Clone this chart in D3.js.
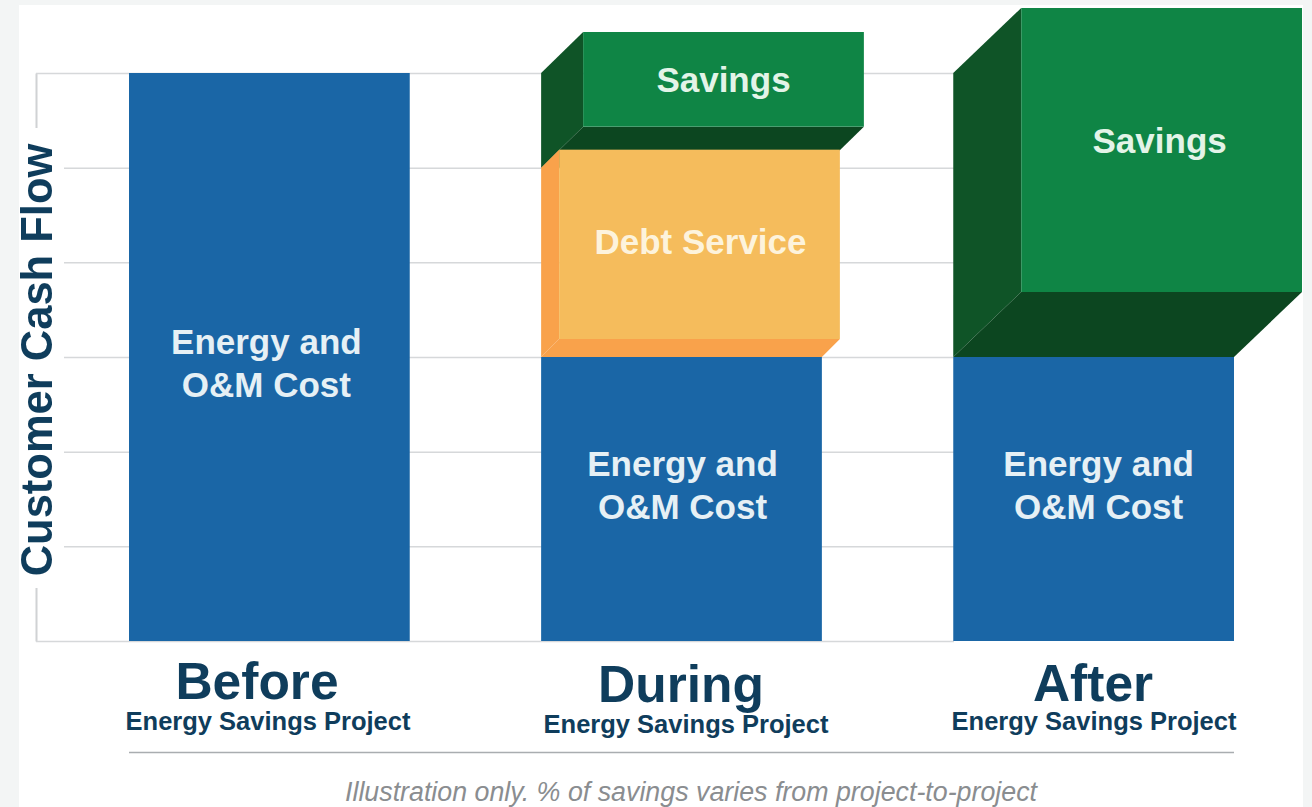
<!DOCTYPE html>
<html>
<head>
<meta charset="utf-8">
<script src="https://cdn.jsdelivr.net/npm/d3@7"></script>
<style>
  html, body { margin: 0; padding: 0; background: #f3f5f5; }
  svg { display: block; filter: blur(0.5px); }
  text { font-family: "Liberation Sans", Arial, sans-serif; font-weight: bold; }
</style>
</head>
<body>
<svg width="1312" height="807"></svg>
<script>
// data
const categories = ["Before", "During", "After"];
const subtitle = "Energy Savings Project";
const costValues = [6, 3, 3];
const debtValues = [0, 2, 0];
const savingsValues = [0, 1, 3];
const yTicks = [0, 1, 2, 3, 4, 5, 6];
const axisTitle = "Customer Cash Flow";
const footnote = "Illustration only. % of savings varies from project-to-project";

const svg = d3.select("svg");
const navy = "#0f3d5c";

// white card
svg.append("rect").attr("x", 19).attr("y", 5).attr("width", 1284).attr("height", 802).attr("fill", "#fff");

const x = d3.scaleBand().domain(categories).range([129, 1234]).paddingInner(0.3188);
const y = d3.scaleLinear().domain([0, 6]).range([641, 73]);

// 축 + 가로 그리드
const axis = svg.append("g")
  .attr("transform", "translate(36,0)")
  .call(d3.axisLeft(y).tickValues(yTicks).tickSize(-918).tickSizeOuter(0).tickFormat(""));
axis.selectAll("line").attr("stroke", "#d6d8da").attr("stroke-width", 1.5);
axis.select(".domain").attr("stroke", "#d0d2d4").attr("stroke-width", 2);

// 3D 블록: 앞면 + 왼쪽면 + 아랫면
function block(cat, from, to, dx, dy, front, side, under) {
  const x0 = x(cat), x1 = x0 + x.bandwidth();
  const top = y(to), bot = y(from);
  const g = svg.append("g");
  g.append("polygon").attr("fill", side)
    .attr("points", [[x0, top], [x0 + dx, top - dy], [x0 + dx, bot - dy], [x0, bot]].join(" "));
  g.append("polygon").attr("fill", under)
    .attr("points", [[x0, bot], [x1, bot], [x1 + dx, bot - dy], [x0 + dx, bot - dy]].join(" "));
  g.append("rect").attr("fill", front)
    .attr("x", x0 + dx).attr("y", top - dy)
    .attr("width", x.bandwidth()).attr("height", bot - top);
}

// depth per block, savings is bigger on the After bar
const savingsDepth = { During: [42, 41], After: [68, 65] };
const debtDepth = [18, 18];

categories.forEach((cat, i) => {
  const cost = costValues[i], debt = debtValues[i], sav = savingsValues[i];
  if (sav > 0) {
    const [dx, dy] = savingsDepth[cat];
    block(cat, cost + debt, cost + debt + sav, dx, dy, "#0f8545", "#0f5427", "#0c4620");
  }
  if (debt > 0) {
    block(cat, cost, cost + debt, debtDepth[0], debtDepth[1], "#f5bc5c", "#f9a24b", "#f9a24b");
  }
});

svg.selectAll(".cost").data(categories).join("rect")
  .attr("class", "cost")
  .attr("x", d => x(d))
  .attr("y", (d, i) => y(costValues[i]))
  .attr("width", x.bandwidth())
  .attr("height", (d, i) => y(0) - y(costValues[i]))
  .attr("fill", "#1a66a6");

// labels inside the bars
function label(txt, px, py, size, fill) {
  return svg.append("text").attr("x", px).attr("y", py)
    .attr("text-anchor", "middle").attr("font-size", size).attr("fill", fill).text(txt);
}
const barLabel = "#e6f0f5";
const cx = d => x(d) + x.bandwidth() / 2;
const costNudge = [-3, 1, 5];
categories.forEach((cat, i) => {
  label("Energy and", cx(cat) + costNudge[i], cat === "Before" ? 354 : 476, 35, barLabel);
  label("O&M Cost", cx(cat) + costNudge[i], cat === "Before" ? 397 : 519, 35, barLabel);
});
label("Savings", cx("During") + 42, 92, 35, "#e3f4e8");
label("Debt Service", cx("During") + 19, 254, 35, "#fdf3dc");
label("Savings", cx("After") + 66, 153, 35, "#e3f4e8");

// category labels
const catX = [257, 681, 1093];
const catY = [699, 702, 701];
const subX = [268, 686, 1094];
const subY = [730, 733, 730];
categories.forEach((cat, i) => {
  label(cat, catX[i], catY[i], 51.5, navy);
  label(subtitle, subX[i], subY[i], 25.5, navy);
});

// axis title sits on a white gap in the axis
svg.append("rect").attr("x", 19).attr("y", 128).attr("width", 45).attr("height", 460).attr("fill", "#fff");
svg.append("text")
  .attr("transform", "translate(52,360) rotate(-90)")
  .attr("text-anchor", "middle").attr("font-size", 43.5).attr("fill", navy)
  .text(axisTitle);

// rule + footnote
svg.append("line").attr("x1", 129).attr("x2", 1234).attr("y1", 752.5).attr("y2", 752.5)
  .attr("stroke", "#a9adb0").attr("stroke-width", 1.5);
svg.append("text").attr("x", 691).attr("y", 801)
  .attr("text-anchor", "middle").attr("font-size", 26.8)
  .attr("fill", "#8a8d90").style("font-weight", "normal").style("font-style", "italic")
  .text(footnote);
</script>
</body>
</html>
